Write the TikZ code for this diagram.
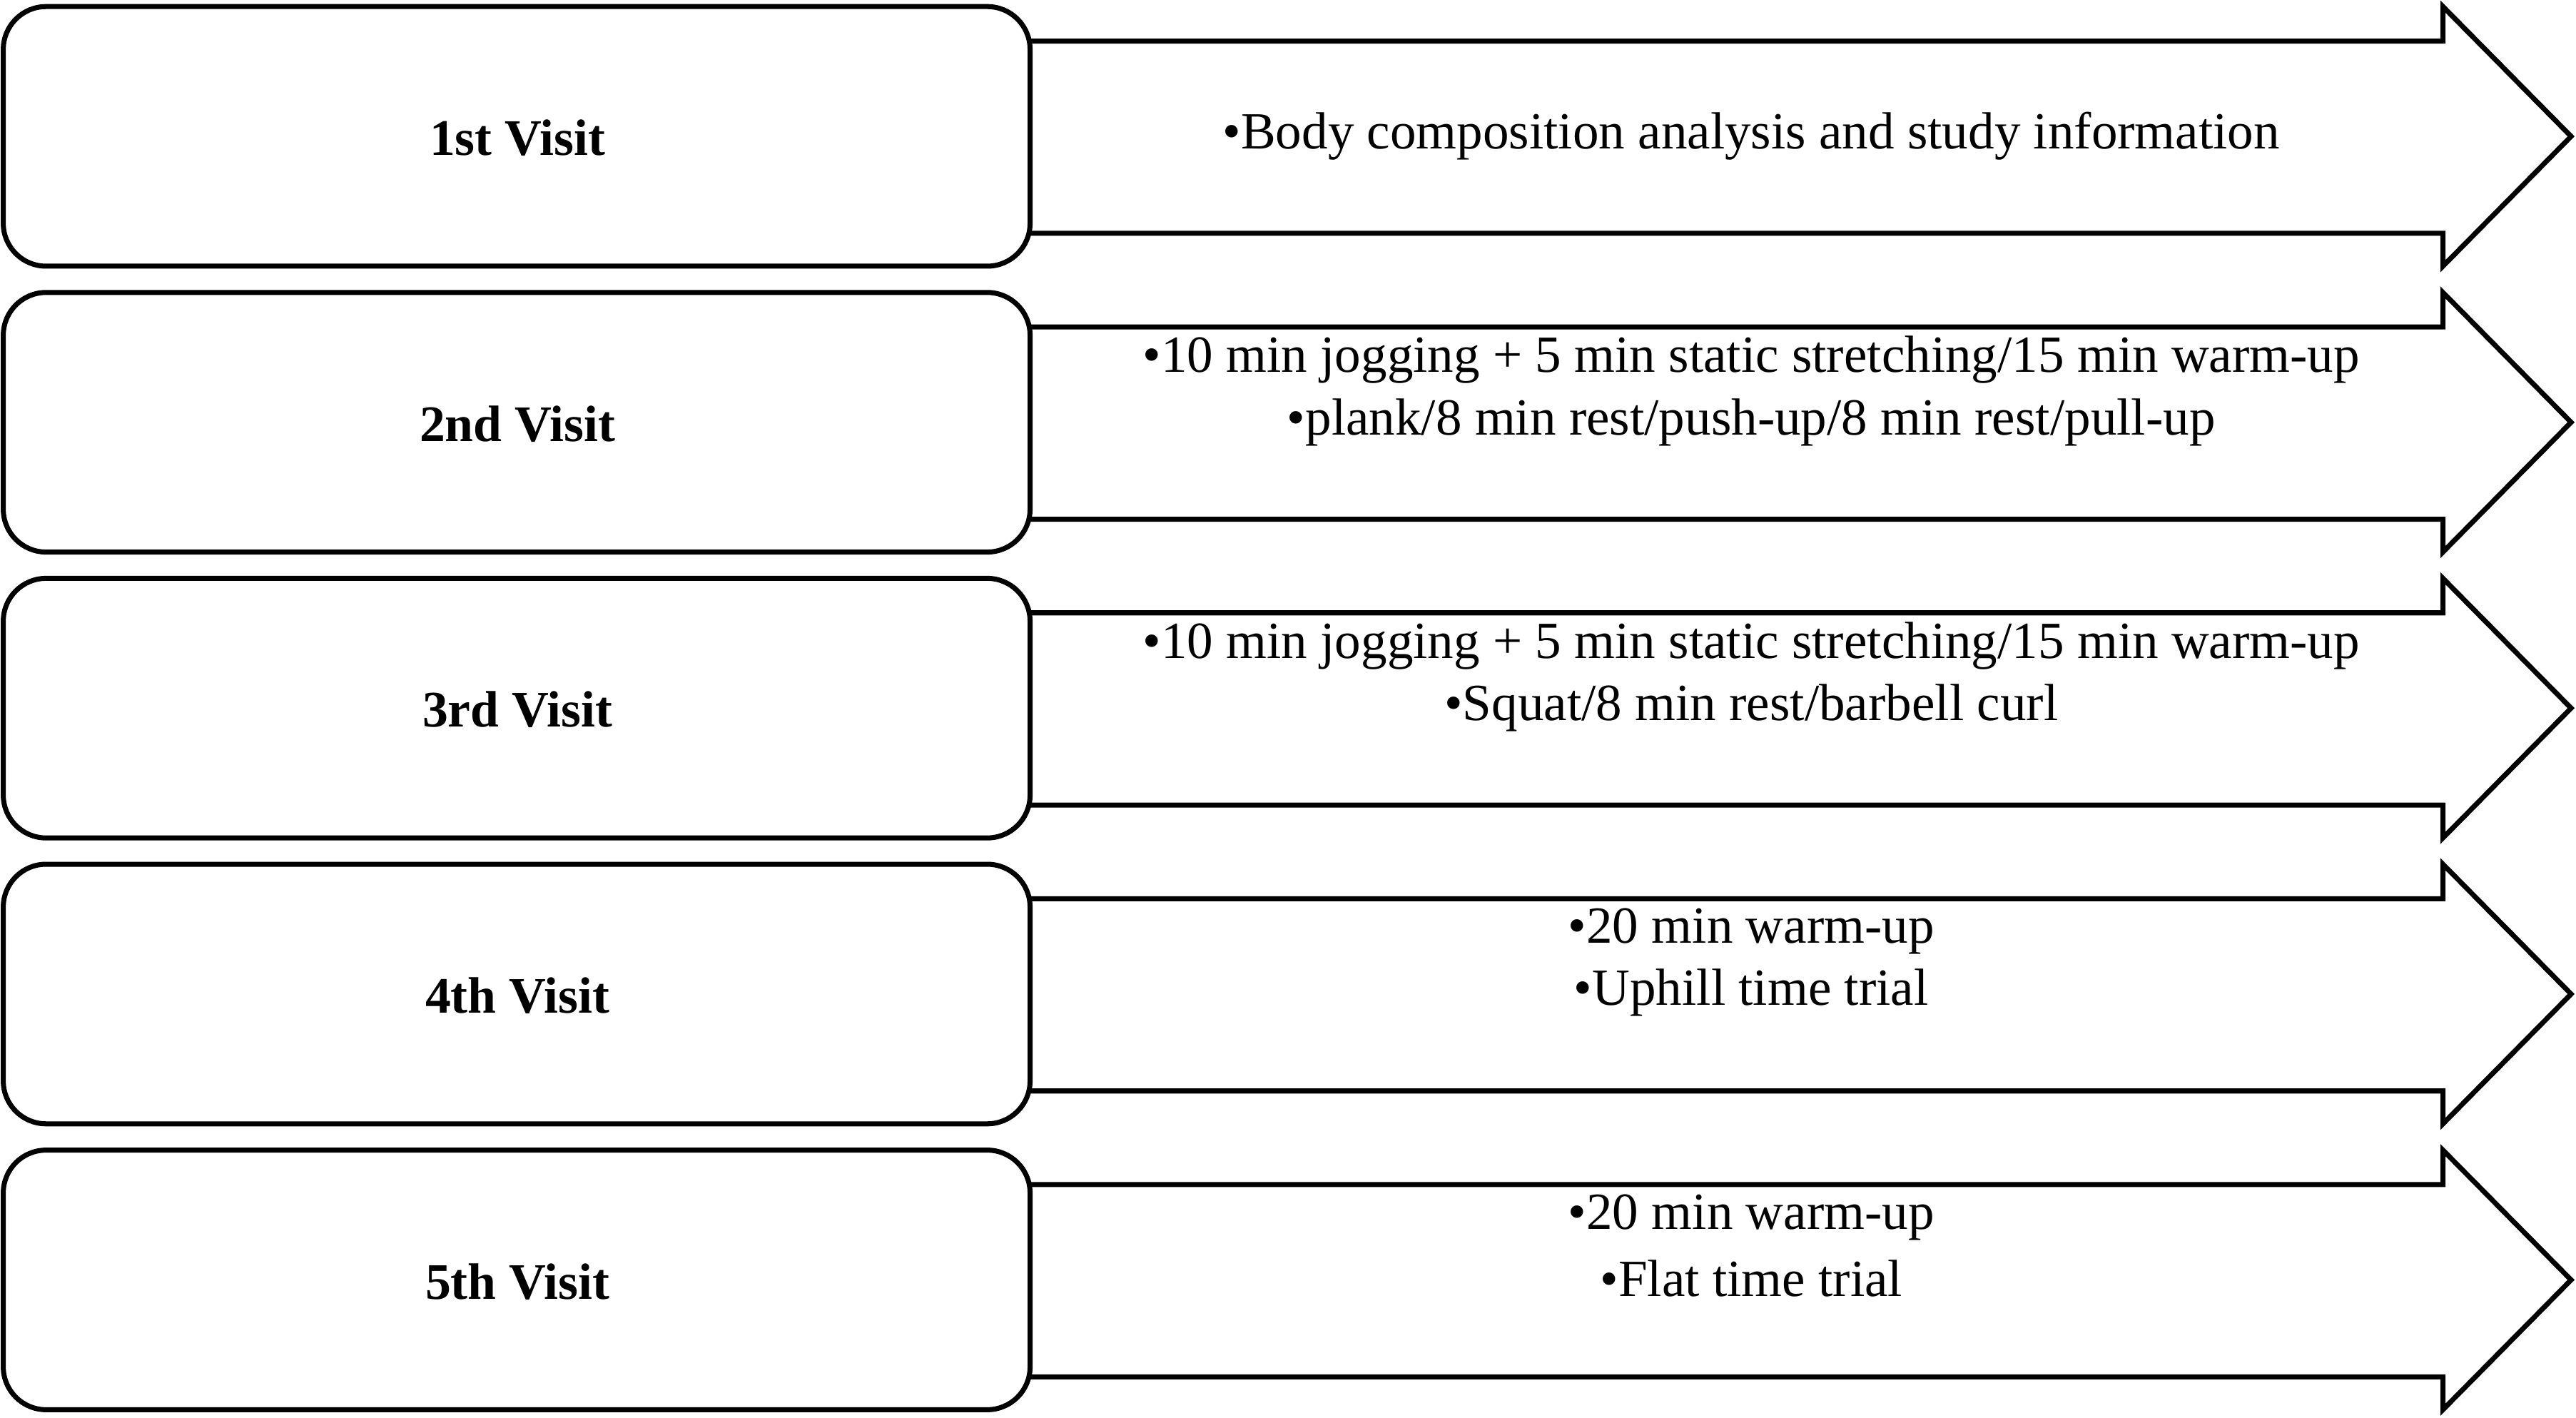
\documentclass[tikz,border=0pt]{standalone}
\usepackage{fontspec}
\setmainfont{Liberation Serif}
\begin{document}
\begin{tikzpicture}[x=0.02302cm,y=-0.02302cm,
  box/.style={draw,line width=2pt,rounded corners=0.6cm},
  arr/.style={draw,line width=2pt,line join=miter},
  lbl/.style={font=\fontsize{20.4}{24}\selectfont\bfseries},
  txt/.style={font=\fontsize{20.8}{24}\selectfont}]
\useasboundingbox (0,0) rectangle (1568,863);
\foreach \i/\t in {1/1st,2/2nd,3/3rd,4/4th,5/5th}{
  \pgfmathsetmacro\y{4+(\i-1)*174}
  \draw[arr] (627,\y+21) -- (1487,\y+21) -- (1487,\y) -- (1565,\y+79) -- (1487,\y+158) -- (1487,\y+138) -- (627,\y+138);
  \draw[box] (2,\y) rectangle (627,\y+158);
  \node[lbl] (v\i) at (315,\y+80) {\t\ Visit};
}
\node[txt] (a1) at (1066,83) {•Body composition analysis and study information};
\node[txt] (a2) at (1066,219) {•10 min jogging + 5 min static stretching/15 min warm-up};
\node[txt] (b2) at (1066,257) {•plank/8 min rest/push-up/8 min rest/pull-up};
\node[txt] (a3) at (1066,393) {•10 min jogging + 5 min static stretching/15 min warm-up};
\node[txt] (b3) at (1066,431) {•Squat/8 min rest/barbell curl};
\node[txt] (a4) at (1066,567) {•20 min warm-up};
\node[txt] (b4) at (1066,604) {•Uphill time trial};
\node[txt] (a5) at (1066,741) {•20 min warm-up};
\node[txt] (b5) at (1066,778) {•Flat time trial};
\end{tikzpicture}
\end{document}
